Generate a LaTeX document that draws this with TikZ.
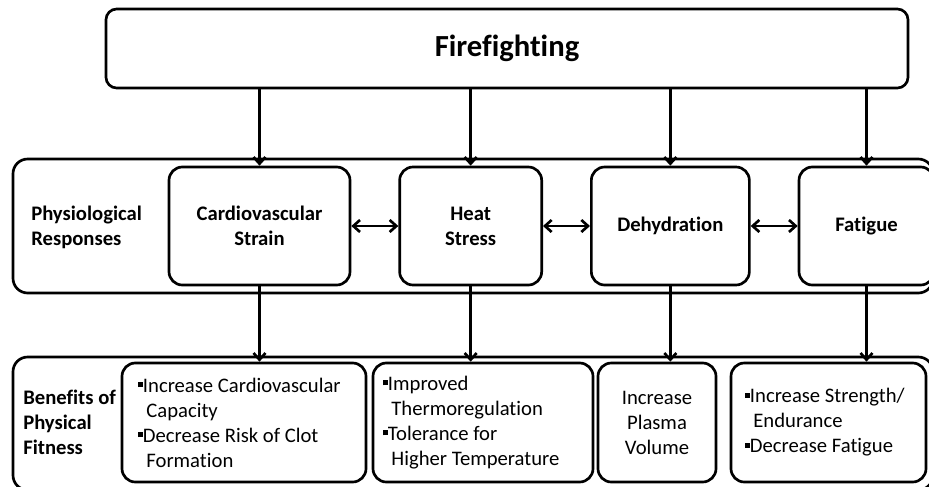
\documentclass[tikz,border=0pt]{standalone}
\usepackage{fontspec}
\setmainfont[Ligatures=NoCommon]{Carlito}
\usetikzlibrary{shapes, arrows.meta, positioning}
\newcommand{\sqbul}{\rule[0.24em]{0.24em}{0.24em}}

\begin{document}
\begin{tikzpicture}[x=0.75pt, y=-0.75pt, node distance=35.25pt,
    frame/.style={draw, rectangle, rounded corners=11pt, line width=2pt},
    box/.style={draw, rectangle, rounded corners=10pt, line width=2pt, align=center},
    resp/.style={box, minimum height=88.5pt, font=\bfseries\fontsize{15.5}{18.75}\selectfont},
    gain/.style={box, minimum height=89.25pt, align=flush left, font=\fontsize{15.5}{18.75}\selectfont},
    lbl/.style={inner sep=0pt, align=left, font=\bfseries\fontsize{15.5}{18.75}\selectfont},
    arr/.style={-{Straight Barb[length=5pt, width=9pt]}, line width=2pt},
    dblarr/.style={{Straight Barb[length=5pt, width=9pt]}-{Straight Barb[length=5pt, width=9pt]}, line width=2pt}]
        \useasboundingbox (0,0) rectangle (929,486);

        % Draw the outer frames
        \node (physframe) [frame, minimum width=690pt, minimum height=100.5pt] at (473,226) {};
        \node (beneframe) [frame, minimum width=690pt, minimum height=99.75pt] at (473,423.5) {};

        % Draw the blocks
        \node (fire)    [box, rounded corners=8pt, minimum width=601.5pt, minimum height=59.25pt, font=\bfseries\fontsize{23}{27}\selectfont] at (507,48.5) {Firefighting};
        \node (cardio)  [resp, minimum width=135.75pt] at (259.5,226) {Cardiovascular\\Strain};
        \node (heat)    [resp, minimum width=106.5pt,  right=of cardio] {Heat\\Stress};
        \node (dehyd)   [resp, minimum width=118.5pt,  right=of heat] {Dehydration};
        \node (fatigue) [resp, minimum width=101.25pt, right=of dehyd] {Fatigue};

        \node (cardiogain)  [gain, inner xsep=12pt, text width=159pt] at (244,422.5) {\sqbul Increase Cardiovascular\\\hphantom{\sqbul\,}Capacity\\\sqbul Decrease Risk of Clot\\\hphantom{\sqbul\,}Formation};
        \node (heatgain)    [gain, inner xsep=7.5pt, text width=150pt] at (483,422.5) {\sqbul Improved\\\hphantom{\sqbul\,}Thermoregulation\\\sqbul Tolerance for\\\hphantom{\sqbul\,}Higher Temperature};
        \node (dehydgain)   [gain, minimum width=88.5pt, align=center] at (657,422.5) {Increase\\Plasma\\Volume};
        \node (fatiguegain) [gain, inner xsep=10.5pt, text width=125.25pt] at (828.5,422.5) {\sqbul Increase Strength/\\\hphantom{\sqbul\,}Endurance\\\sqbul Decrease Fatigue};

        % Add the row labels
        \node (physlbl) [lbl, anchor=west] at (31,227) {Physiological\\Responses};
        \node (benelbl) [lbl, anchor=west] at (23,422) {Benefits of\\Physical\\Fitness};

        % Draw the connecting lines
        \foreach \resp/\gain in {cardio/cardiogain, heat/heatgain, dehyd/dehydgain, fatigue/fatiguegain} {
            \draw [arr] (fire.south -| \resp.north) -- (\resp.north);
            \draw [arr] (\resp.south) -- (\resp.south |- \gain.north);
        }
        \draw [dblarr] (cardio) -- (heat);
        \draw [dblarr] (heat) -- (dehyd);
        \draw [dblarr] (dehyd) -- (fatigue);
    \end{tikzpicture}
\end{document}
